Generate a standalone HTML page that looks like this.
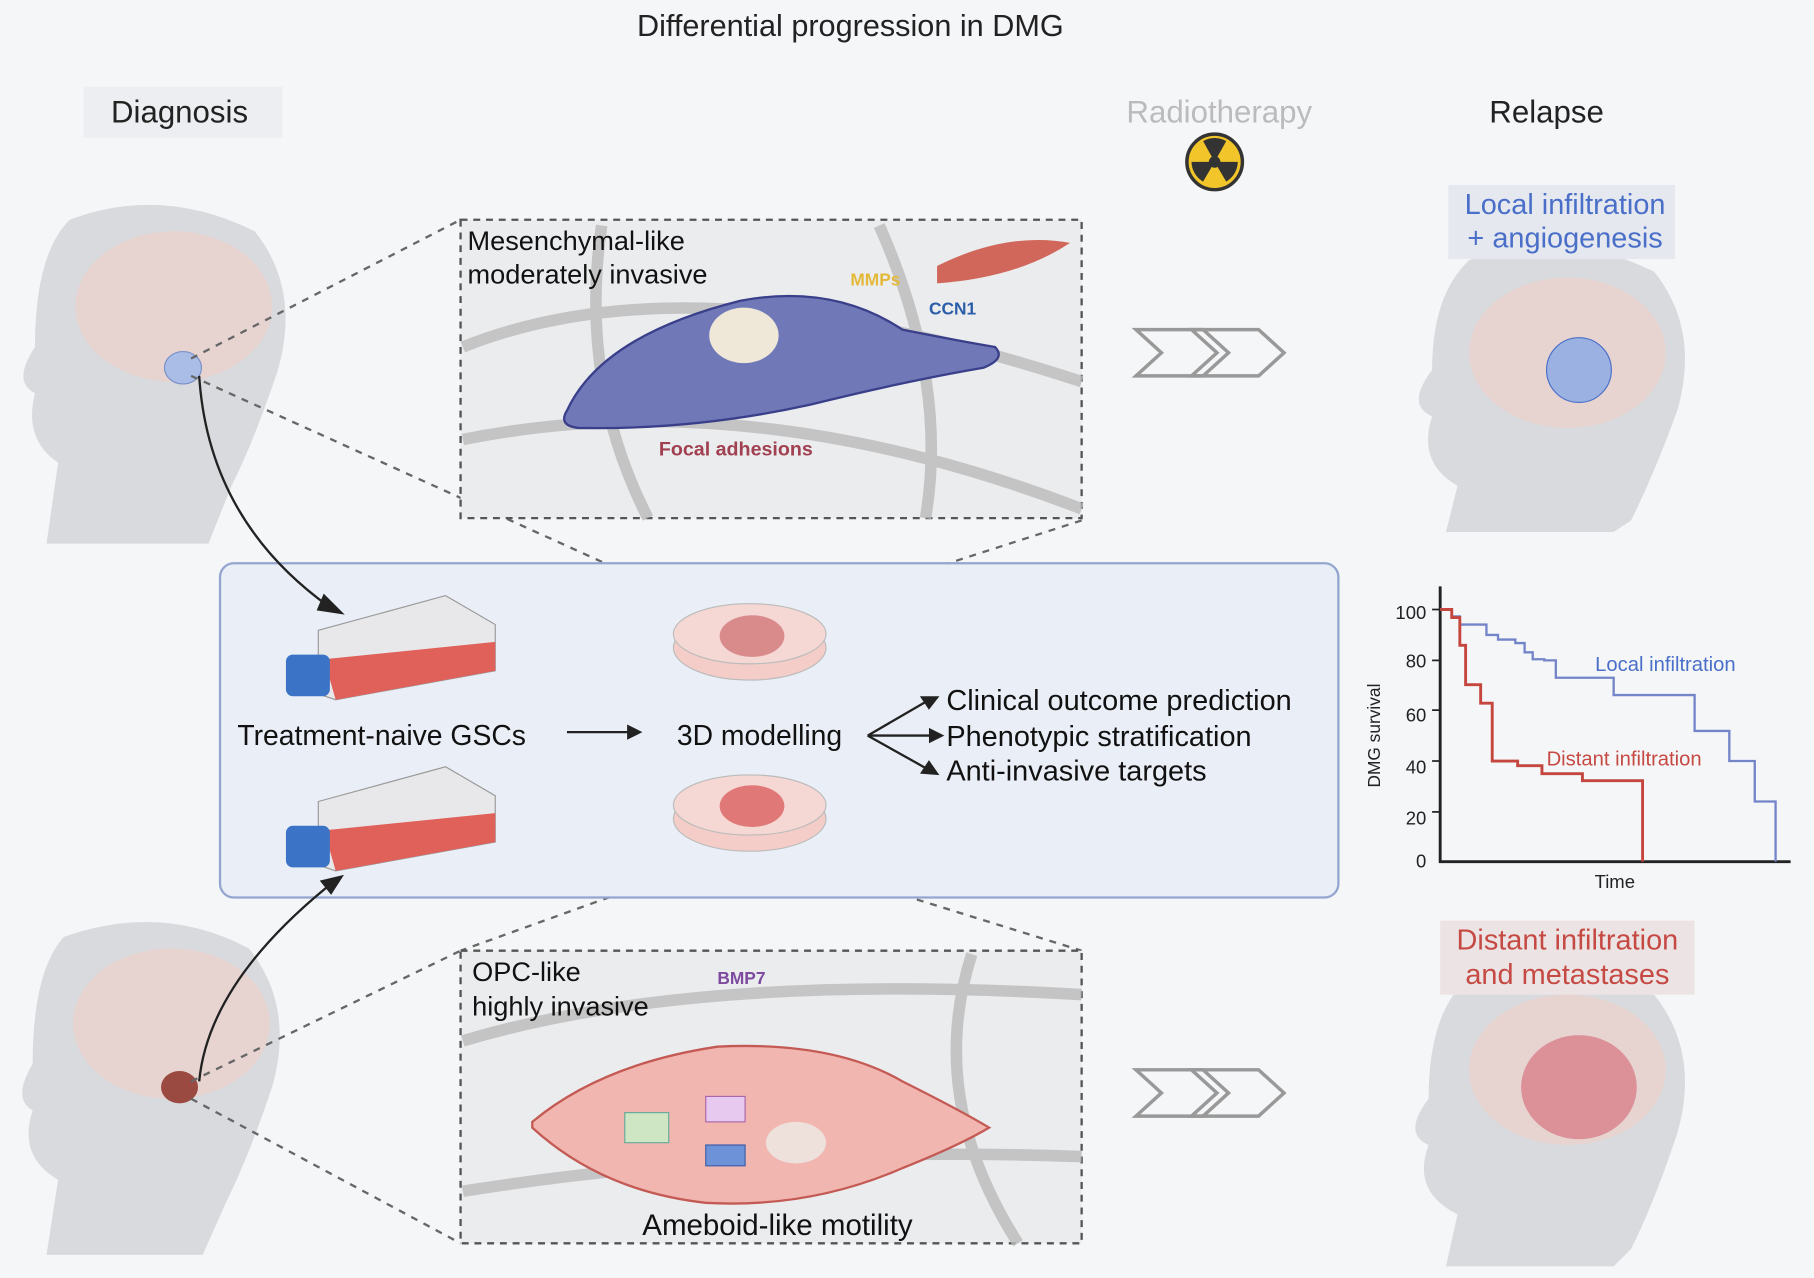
<!DOCTYPE html>
<html><head><meta charset="utf-8"><style>
html,body{margin:0;padding:0;background:#f5f6f8}
svg{display:block}
text{font-family:"Liberation Sans",sans-serif}
</style></head><body>
<svg width="1814" height="1278" viewBox="0 0 1568 1105" xmlns="http://www.w3.org/2000/svg">
<rect width="1568" height="1105" fill="#f5f6f8"/>
<text x="735" y="31" font-size="26.5" text-anchor="middle" fill="#222">Differential progression in DMG</text>
<rect x="72" y="75" width="172" height="44" fill="#eceef1"/>
<text x="155" y="106" font-size="27" text-anchor="middle" fill="#222">Diagnosis</text>
<text x="1054" y="106" font-size="27" text-anchor="middle" fill="#bbb">Radiotherapy</text>
<text x="1337" y="106" font-size="27" text-anchor="middle" fill="#222">Relapse</text>
<circle cx="1050" cy="140" r="24" fill="#f2c62b" stroke="#333" stroke-width="3"/>
<circle cx="1050" cy="140" r="5" fill="#333"/>
<path d="M1050 140 L1040 122 A20 20 0 0 1 1060 122Z M1050 140 L1070 140 A20 20 0 0 1 1060 157Z M1050 140 L1040 157 A20 20 0 0 1 1030 140Z" fill="#333"/>

<!-- heads -->
<g fill="#d9dadd">
<path d="M60 190 Q140 160 220 200 Q260 250 240 320 Q220 380 200 420 L180 470 L40 470 L50 400 Q20 380 30 340 Q10 330 30 300 Q30 220 60 190Z"/>
<path d="M55 810 Q140 780 215 820 Q255 870 235 940 Q215 1000 195 1040 L175 1085 L40 1085 L50 1020 Q15 1000 28 960 Q10 950 28 920 Q28 840 55 810Z"/>
<path d="M1270 225 Q1350 195 1430 235 Q1470 285 1450 355 Q1430 410 1410 450 L1395 460 L1250 460 L1260 420 Q1225 400 1238 360 Q1215 350 1238 320 Q1238 255 1270 225Z"/>
<path d="M1265 850 Q1350 820 1430 860 Q1470 910 1450 980 Q1430 1040 1410 1080 L1395 1095 L1250 1095 L1260 1050 Q1220 1030 1235 990 Q1212 980 1235 950 Q1235 880 1265 850Z"/>
</g>
<g fill="#e8d3cf" opacity="0.9">
<ellipse cx="150" cy="265" rx="85" ry="65"/>
<ellipse cx="148" cy="885" rx="85" ry="65"/>
<ellipse cx="1355" cy="305" rx="85" ry="65"/>
<ellipse cx="1355" cy="925" rx="85" ry="65"/>
</g>
<ellipse cx="158" cy="318" rx="16" ry="14" fill="#a9bde6" stroke="#7990c8"/>
<ellipse cx="155" cy="940" rx="16" ry="14" fill="#9a4a40"/>
<ellipse cx="1365" cy="320" rx="28" ry="28" fill="#9ab1e2" stroke="#4a6fc9"/>
<ellipse cx="1365" cy="940" rx="50" ry="45" fill="#d9808a" opacity="0.8"/>

<rect x="1252" y="160" width="196" height="64" fill="#e5e8ef"/>
<text x="1353" y="185" font-size="25" text-anchor="middle" fill="#4a6fc9">Local infiltration</text>
<text x="1353" y="214" font-size="25" text-anchor="middle" fill="#4a6fc9">+ angiogenesis</text>
<rect x="1245" y="796" width="220" height="64" fill="#ece4e4"/>
<text x="1355" y="821" font-size="25" text-anchor="middle" fill="#c64a44">Distant infiltration</text>
<text x="1355" y="851" font-size="25" text-anchor="middle" fill="#c64a44">and metastases</text>

<!-- dashed zoom lines -->
<g stroke="#666" stroke-dasharray="6 6" stroke-width="2" fill="none">
<line x1="165" y1="310" x2="398" y2="190"/><line x1="165" y1="325" x2="640" y2="540"/>
<line x1="935" y1="450" x2="655" y2="540"/>
<line x1="165" y1="935" x2="398" y2="822"/><line x1="165" y1="950" x2="398" y2="1075"/>
<line x1="640" y1="735" x2="398" y2="822"/><line x1="655" y1="735" x2="935" y2="822"/>
</g>

<!-- top panel -->
<rect x="398" y="190" width="537" height="258" fill="#ebecee" stroke="#555" stroke-dasharray="6 5" stroke-width="2"/>
<g stroke="#bbb" stroke-width="10" fill="none" opacity="0.8">
<path d="M400 300 Q600 220 935 330"/><path d="M400 380 Q650 330 935 440"/><path d="M520 195 Q500 330 560 448"/><path d="M760 195 Q820 330 800 448"/>
</g>
<path d="M490 355 Q520 290 640 260 Q720 245 780 285 Q830 295 860 300 Q870 310 850 318 Q780 330 700 350 Q600 372 500 370 Q482 368 490 355Z" fill="#7078b8" stroke="#3a3f8a" stroke-width="2"/>
<ellipse cx="643" cy="290" rx="30" ry="24" fill="#efe8d8"/>
<path d="M810 230 Q870 200 925 210 Q880 240 810 245Z" fill="#d1665a"/>
<text x="404" y="216" font-size="23.5" fill="#111">Mesenchymal-like</text>
<text x="404" y="245" font-size="23.5" fill="#111">moderately invasive</text>
<text x="735" y="247" font-size="15" font-weight="bold" fill="#e4b93a">MMPs</text>
<text x="803" y="272" font-size="15" font-weight="bold" fill="#2a5ea8">CCN1</text>
<text x="636" y="394" font-size="17" font-weight="bold" text-anchor="middle" fill="#a04050">Focal adhesions</text>

<!-- bottom panel -->
<rect x="398" y="822" width="537" height="253" fill="#ebecee" stroke="#555" stroke-dasharray="6 5" stroke-width="2"/>
<g stroke="#bbb" stroke-width="10" fill="none" opacity="0.8">
<path d="M400 900 Q600 840 935 860"/><path d="M400 1030 Q650 990 935 1000"/><path d="M840 825 Q800 950 880 1075"/>
</g>
<path d="M460 970 Q520 920 620 905 Q720 900 780 935 Q830 960 855 975 Q830 990 780 1010 Q700 1045 610 1040 Q520 1030 460 975Z" fill="#f2b6b0" stroke="#c45a54" stroke-width="2"/>
<ellipse cx="688" cy="988" rx="26" ry="18" fill="#eee0da"/>
<rect x="540" y="962" width="38" height="26" fill="#cfe6c4" stroke="#6a9"/>
<rect x="610" y="948" width="34" height="22" fill="#e7c8ee" stroke="#a6a"/>
<rect x="610" y="990" width="34" height="18" fill="#6e92d8" stroke="#3a5ea8"/>
<text x="408" y="848" font-size="23.5" fill="#111">OPC-like</text>
<text x="408" y="878" font-size="23.5" fill="#111">highly invasive</text>
<text x="620" y="851" font-size="15" font-weight="bold" fill="#7d4aa0">BMP7</text>
<text x="672" y="1068" font-size="25.5" text-anchor="middle" fill="#111">Ameboid-like motility</text>

<!-- arrows chevrons -->
<g fill="none" stroke="#999" stroke-width="3">
<path d="M982 285 L1040 285 L1062 305 L1040 325 L982 325 L1004 305Z"/><path d="M1030 285 L1088 285 L1110 305 L1088 325 L1030 325 L1052 305Z"/>
<path d="M982 925 L1040 925 L1062 945 L1040 965 L982 965 L1004 945Z"/><path d="M1030 925 L1088 925 L1110 945 L1088 965 L1030 965 L1052 945Z"/>
</g>

<!-- central box -->
<rect x="190" y="487" width="967" height="289" rx="12" fill="#eaeef6" stroke="#94a6cf" stroke-width="2"/>
<g>
<path d="M275 545 L385 515 L428 540 L428 580 L290 605 L275 600Z" fill="#e8e8ea" stroke="#999"/>
<path d="M280 570 L428 555 L428 580 L290 605Z" fill="#e0605a"/>
<rect x="247" y="566" width="38" height="36" rx="6" fill="#3b74c6"/>
<path d="M275 693 L385 663 L428 688 L428 728 L290 753 L275 748Z" fill="#e8e8ea" stroke="#999"/>
<path d="M280 718 L428 703 L428 728 L290 753Z" fill="#e0605a"/>
<rect x="247" y="714" width="38" height="36" rx="6" fill="#3b74c6"/>
</g>
<g>
<ellipse cx="648" cy="560" rx="66" ry="28" fill="#f5cdc8" stroke="#bbb"/>
<ellipse cx="648" cy="548" rx="66" ry="26" fill="#f5d8d4" stroke="#bbb"/>
<ellipse cx="650" cy="550" rx="28" ry="18" fill="#d98a8a"/>
<ellipse cx="648" cy="708" rx="66" ry="28" fill="#f5cdc8" stroke="#bbb"/>
<ellipse cx="648" cy="696" rx="66" ry="26" fill="#f5d8d4" stroke="#bbb"/>
<ellipse cx="650" cy="697" rx="28" ry="18" fill="#e07878"/>
</g>
<text x="205" y="644" font-size="24.5" fill="#111">Treatment-naive GSCs</text>
<text x="585" y="644" font-size="24.5" fill="#111">3D modelling</text>
<text x="818" y="614" font-size="25" fill="#111">Clinical outcome prediction</text>
<text x="818" y="645" font-size="25" fill="#111">Phenotypic stratification</text>
<text x="818" y="675" font-size="25" fill="#111">Anti-invasive targets</text>
<g stroke="#222" stroke-width="2" fill="#222">
<line x1="490" y1="633" x2="545" y2="633"/><path d="M553 633 L543 628 L543 638Z"/>
<path d="M750 636 L800 607" fill="none"/><path d="M810 603 L797 603 L803 612Z"/>
<line x1="750" y1="636" x2="805" y2="636"/><path d="M814 636 L804 631 L804 641Z"/>
<path d="M750 636 L800 664" fill="none"/><path d="M810 669 L803 659 L797 668Z"/>
<path d="M172 325 Q180 450 285 525" fill="none"/><path d="M295 530 L280 515 L275 527Z"/>
<path d="M172 935 Q180 850 285 765" fill="none"/><path d="M295 758 L278 762 L286 772Z"/>
</g>

<!-- KM chart -->
<g font-size="16" fill="#222">
<line x1="1245" y1="507" x2="1245" y2="746" stroke="#222" stroke-width="2.5"/>
<line x1="1244" y1="745" x2="1548" y2="745" stroke="#222" stroke-width="2.5"/>
<g text-anchor="end">
<text x="1233" y="535">100</text><text x="1233" y="577">80</text><text x="1233" y="624">60</text>
<text x="1233" y="669">40</text><text x="1233" y="713">20</text><text x="1233" y="750">0</text>
</g>
<g stroke="#222" stroke-width="1.5"><line x1="1238" y1="527" x2="1245" y2="527"/><line x1="1238" y1="571" x2="1245" y2="571"/><line x1="1238" y1="614" x2="1245" y2="614"/><line x1="1238" y1="658" x2="1245" y2="658"/><line x1="1238" y1="702" x2="1245" y2="702"/></g>
<text x="1396" y="768" text-anchor="middle">Time</text>
<text transform="translate(1193 636) rotate(-90)" text-anchor="middle" font-size="15">DMG survival</text>
</g>
<polyline fill="none" stroke="#7484c8" stroke-width="2" points="1245,527 1255,527 1255,533 1262,533 1262,540 1285,540 1285,549 1295,549 1295,553 1310,553 1310,556 1318,556 1318,564 1325,564 1325,570 1335,570 1335,571 1345,571 1345,586 1355,586 1355,586 1395,586 1395,601 1465,601 1465,632 1495,632 1495,658 1517,658 1517,693 1535,693 1535,745"/>
<polyline fill="none" stroke="#c4463e" stroke-width="2.5" points="1245,527 1255,527 1255,534 1262,534 1262,558 1267,558 1267,592 1280,592 1280,608 1290,608 1290,658 1312,658 1312,662 1333,662 1333,669 1368,669 1368,675 1420,675 1420,745"/>
<text x="1379" y="580" font-size="17.5" fill="#4a6fc9">Local infiltration</text>
<text x="1337" y="662" font-size="17.5" fill="#c64a44">Distant infiltration</text>
</svg>
</body></html>
